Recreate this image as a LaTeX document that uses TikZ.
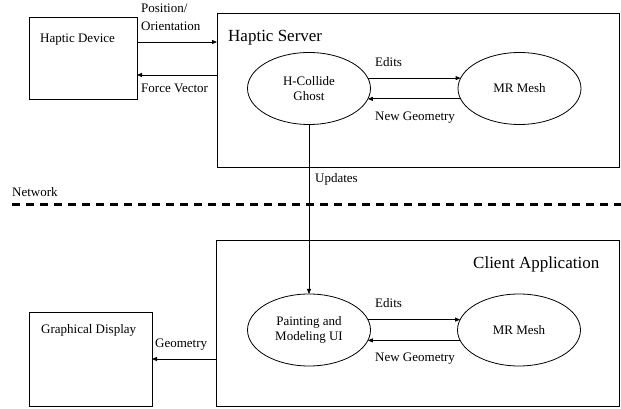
\documentclass[tikz,border=0pt]{standalone}
\usepackage{fontspec}
\setmainfont{Liberation Serif}
\usetikzlibrary{arrows.meta, positioning, shapes.geometric}

\begin{document}
\begin{tikzpicture}[
	x=1pt, y=1pt,
	font=\fontsize{13}{15}\selectfont,
	box/.style  = {draw, line width=0.8pt, inner sep=0pt, outer sep=0pt},
	oval/.style = {ellipse, draw, line width=0.8pt, minimum width=123pt,
	               minimum height=72pt, align=center, inner sep=0pt, outer sep=0pt},
	txt/.style  = {inner sep=0pt, anchor=base west},
	ttl/.style  = {txt, font=\fontsize{17}{20}\selectfont},
	arr/.style  = {line width=0.8pt, -{Triangle[length=5pt, width=4pt]}},
	up+/.style  = {yshift= 16pt},
	up-/.style  = {yshift=-17pt}
     ]
	\useasboundingbox (0,0) rectangle (621,409);
%
		\node (device)  [box, minimum width=108pt, minimum height=82pt]  at (83,351)    {};
		\node (server)  [box, minimum width=402pt, minimum height=154pt] at (418,319)   {};
		\node (client)  [box, minimum width=403pt, minimum height=166pt] at (417.5,86)  {};
		\node (display) [box, minimum width=123pt, minimum height=94pt]  at (90.5,50)   {};
%
		\node (ghost)   [oval] at (309,320.5)  {H-Collide\\Ghost};
		\node (meshtop) [oval] at (519.5,320.5) {MR Mesh};
		\node (paint)   [oval] at (309,79)     {Painting and\\Modeling UI};
		\node (meshbot) [oval] at (519,79)     {MR Mesh};
%
		\node (devlbl)  [txt] at (40,366)    {Haptic Device};
		\node (srvlbl)  [ttl] at (228,367.3) {Haptic Server};
		\node (clilbl)  [ttl] at (473,140)   {Client Application};
		\node (displbl) [txt] at (41,75)     {Graphical Display};
%
		\coordinate (net1) at (12,204.5);
		\coordinate (net2) at (621,204.5);
		\draw[line width=2.2pt, dash pattern=on 8pt off 6pt] (net1) -- (net2);
		\node (netlbl)  [txt] at (12,212)    {Network};
%
		\draw[arr] ([up+] device.east) -- ([up+] device.east -| server.west);
		\node (poslbl)  [txt] at (141,396)   {Position/};
		\node (orilbl)  [txt] at (141,378)   {Orientation};
%
		\draw[arr] ([up-] device.east -| server.west) -- ([up-] device.east);
		\node (forlbl)  [txt] at (141,316)   {Force Vector};
%
		\draw[arr] (ghost.10) -- (meshtop.170);
		\node (edtlbl1) [txt] at (375,342)   {Edits};
		\draw[arr] (meshtop.190) -- (ghost.350);
		\node (geolbl1) [txt] at (375,288)   {New Geometry};
%
		\draw[arr] (ghost.south) -- (paint.north);
		\node (updlbl)  [txt] at (315,226)   {Updates};
%
		\draw[arr] (paint.10) -- (meshbot.170);
		\node (edtlbl2) [txt] at (375,101)   {Edits};
		\draw[arr] (meshbot.190) -- (paint.350);
		\node (geolbl2) [txt] at (375,47)    {New Geometry};
%
		\draw[arr] (client.west |- display.east) -- (display.east);
		\node (dsplbl)  [txt] at (155,61)    {Geometry};
\end{tikzpicture}
\end{document}
